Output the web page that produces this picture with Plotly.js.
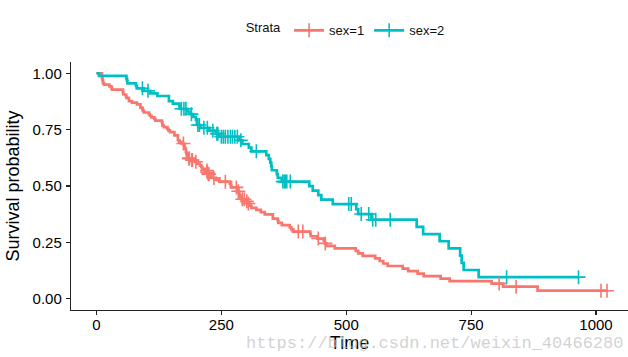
<!DOCTYPE html>
<html>
<head>
<meta charset="utf-8">
<script src="https://cdn.plot.ly/plotly-3.0.1.min.js"></script>
<style>html,body{margin:0;padding:0;background:#fff;}#chart{width:628px;height:357px;}</style>
</head>
<body>
<div id="chart"></div>
<script>
// sex=1 Kaplan-Meier step points (time, survival)
const time1 = [0,11,12,13,15,26,30,31,53,54,59,60,65,71,81,88,92,93,95,105,107,110,116,118,131,132,135,142,144,147,156,163,166,170,175,176,177,179,180,181,183,189,197,202,207,210,212,218,222,223,229,230,239,246,267,269,270,283,284,285,286,288,291,301,303,306,310,320,329,337,353,363,364,371,387,390,394,428,429,442,455,457,460,477,519,524,533,558,567,574,583,613,624,643,655,689,707,791,814,883,1022];
const surv1 = [1,0.9783,0.9710,0.9565,0.9493,0.9420,0.9348,0.9275,0.9130,0.9058,0.8986,0.8913,0.8768,0.8696,0.8623,0.8478,0.8406,0.8333,0.8261,0.8188,0.8116,0.8043,0.7971,0.7899,0.7826,0.7681,0.7609,0.7536,0.7464,0.7391,0.7246,0.7029,0.6957,0.6884,0.6811,0.6738,0.6664,0.6518,0.6445,0.6298,0.6225,0.6150,0.6073,0.5995,0.5917,0.5839,0.5762,0.5684,0.5605,0.5525,0.5442,0.5360,0.5276,0.5192,0.5107,0.5022,0.4937,0.4850,0.4764,0.4676,0.4587,0.4499,0.4411,0.4319,0.4225,0.4129,0.4033,0.3937,0.3841,0.3745,0.3553,0.3457,0.3361,0.3265,0.3169,0.3073,0.2977,0.2874,0.2771,0.2669,0.2562,0.2455,0.2344,0.2232,0.2120,0.2009,0.1897,0.1786,0.1674,0.1562,0.1451,0.1339,0.1228,0.1116,0.1004,0.0893,0.0781,0.0670,0.0536,0.0357,0.0357];
const cens1 = [174,185,186,191,192,199,221,222,224,225,235,258,280,284,292,296,301,304,404,413,444,458,806,840,1010,1022];

// sex=2 Kaplan-Meier step points (time, survival)
const time2 = [0,5,60,61,62,79,81,95,107,122,145,153,166,167,182,186,194,199,201,208,226,239,245,285,292,305,310,340,345,348,350,351,361,363,371,426,433,444,450,473,520,524,550,641,654,687,705,728,731,735,765,965];
const surv2 = [1,0.9889,0.9778,0.9667,0.9556,0.9444,0.9333,0.9221,0.9107,0.8993,0.8766,0.8652,0.8538,0.8424,0.8305,0.8187,0.8066,0.7946,0.7705,0.7581,0.7452,0.7322,0.7186,0.7027,0.6863,0.6700,0.6537,0.6369,0.6201,0.6034,0.5866,0.5699,0.5531,0.5363,0.5196,0.4996,0.4796,0.4596,0.4396,0.4197,0.3976,0.3755,0.3505,0.3186,0.2868,0.2549,0.2230,0.1912,0.1593,0.1274,0.0956,0.0956];
const cens2 = [92,103,170,175,179,190,203,206,215,222,233,241,243,250,254,258,263,268,272,277,282,289,320,373,376,378,381,388,505,510,530,545,553,559,588,821,965];

const strataNames = ['sex=1','sex=2'];
const xTicks = [0,250,500,750,1000];
const yTicks = [0,0.25,0.5,0.75,1];
const colors = ['#F8766D','#00BFC4'];

function stepAt(times, survs, t){
  let v = survs[0];
  for (let i = 0; i < times.length; i++){ if (times[i] <= t) v = survs[i]; else break; }
  return v;
}

const FONT = '"Liberation Sans", Arial, Helvetica, sans-serif';
const groups = [[time1,surv1,cens1],[time2,surv2,cens2]];
const traces = [];
groups.forEach((g,i)=>{
  traces.push({x:g[0], y:g[1], mode:'lines', line:{shape:'hv', color:colors[i], width:2.7}, showlegend:false, hoverinfo:'skip'});
});
groups.forEach((g,i)=>{
  traces.push({x:g[2], y:g[2].map(t=>stepAt(g[0],g[1],t)), mode:'markers',
    marker:{symbol:'cross-thin-open', size:10, color:colors[i], line:{color:colors[i], width:1.6}}, showlegend:false, hoverinfo:'skip'});
});
strataNames.forEach((n,i)=>{
  traces.push({x:[null], y:[null], name:n, mode:'lines+markers', line:{color:colors[i], width:2.7},
    marker:{symbol:'cross-thin-open', size:10, color:colors[i], line:{color:colors[i], width:1.6}}});
});

const layout = {
  width:628, height:357,
  margin:{l:71, r:0, t:62, b:47},
  paper_bgcolor:'#fff', plot_bgcolor:'#fff',
  font:{family:FONT, color:'#000'},
  showlegend:true,
  legend:{orientation:'h', xref:'container', yref:'container', x:0.552, xanchor:'center', y:0.915, yanchor:'middle',
    font:{size:13, color:'#111'}, title:{text:'Strata', side:'left', font:{size:13, color:'#111'}},
    itemwidth:30, tracegroupgap:0, bgcolor:'rgba(0,0,0,0)'},
  xaxis:{range:[-51,1064], tickvals:xTicks, ticktext:xTicks.map(String), showgrid:false, zeroline:false,
    showline:true, linecolor:'#222', linewidth:1.2, ticks:'outside', ticklen:4, tickwidth:1.1, tickcolor:'#222',
    ticklabelstandoff:-3,
    tickfont:{size:15, color:'#000'}, title:{text:'Time', font:{size:18, color:'#000'}, standoff:4}},
  yaxis:{range:[-0.05,1.05], tickvals:yTicks, ticktext:yTicks.map(v=>v.toFixed(2)), showgrid:false, zeroline:false,
    showline:true, linecolor:'#222', linewidth:1.2, ticks:'outside', ticklen:4, tickwidth:1.1, tickcolor:'#222',
    ticklabelstandoff:1,
    tickfont:{size:15, color:'#000'}, title:{text:'Survival probability', font:{size:18, color:'#000'}, standoff:8}},
  annotations:[{text:'https://blog.csdn.net/weixin_40466280', xref:'paper', yref:'paper', x:0.995, y:-0.135, xanchor:'right', yanchor:'middle',
    showarrow:false, font:{family:'"Liberation Mono", "DejaVu Sans Mono", monospace', size:17, color:'rgba(190,190,190,0.7)'}}]
};
Plotly.newPlot('chart', traces, layout, {displayModeBar:false, staticPlot:true});
</script>
</body>
</html>
